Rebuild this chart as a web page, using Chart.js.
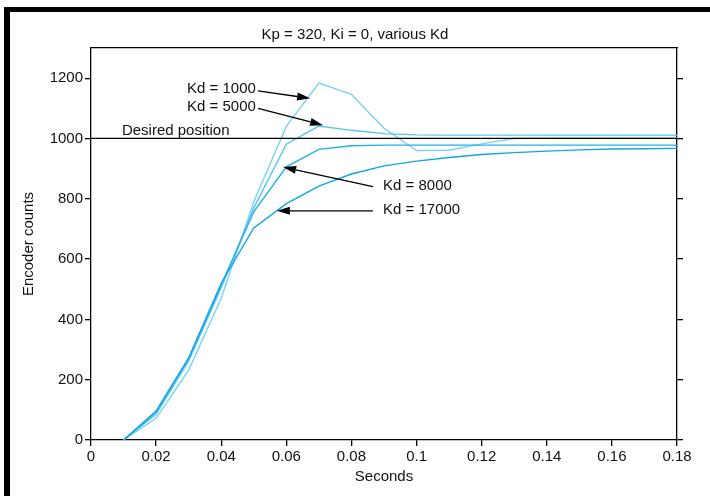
<!DOCTYPE html>
<html>
<head>
<meta charset="utf-8">
<script src="https://cdn.jsdelivr.net/npm/chart.js@4/dist/chart.umd.min.js"></script>
<style>
  html, body { margin: 0; padding: 0; background: #fff; }
  #wrap { position: relative; width: 710px; height: 496px; }
  #myChart { position: absolute; left: 0; top: 0; }
  #frame {
    position: absolute; left: 4px; top: 7px; right: 0; bottom: 0;
    border-top: 5px solid #000; border-left: 6px solid #000;
    pointer-events: none;
  }
</style>
</head>
<body>
<div id="wrap">
  <canvas id="myChart" width="710" height="496"></canvas>
  <div id="frame"></div>
</div>
<script>
const seconds = [0.01, 0.02, 0.03, 0.04, 0.05, 0.06, 0.07, 0.08, 0.09,
  0.10, 0.11, 0.12, 0.13, 0.14, 0.15, 0.16, 0.17, 0.18];

const kd1000 = [0, 72, 232, 470, 790, 1040, 1184, 1146, 1034,
  960, 961, 982, 1000, 1001, 1001, 1001, 1001, 1001];
const kd5000 = [0, 85, 262, 505, 770, 981, 1041, 1027, 1016,
  1012, 1011, 1011, 1011, 1011, 1011, 1011, 1011, 1011];
const kd8000 = [0, 93, 270, 515, 757, 906, 964, 976, 978,
  978, 978, 978, 978, 978, 978, 978, 978, 978];
const kd17000 = [0, 96, 272, 520, 703, 784, 842, 882, 909,
  925, 937, 947, 953, 958, 962, 965, 966, 967];

const desiredX = [0, 0.18];
const desiredY = [1000, 1000];

const xTicks = [0, 0.02, 0.04, 0.06, 0.08, 0.1, 0.12, 0.14, 0.16, 0.18];
const xTickLabels = ["0", "0.02", "0.04", "0.06", "0.08", "0.1", "0.12", "0.14", "0.16", "0.18"];
const yTicks = [0, 200, 400, 600, 800, 1000, 1200];
const yTickLabels = ["0", "200", "400", "600", "800", "1000", "1200"];

// callouts: text anchor, arrow start, arrow tip (data units)
const callouts = [
  { text: "Kd = 1000", at: [0.0295, 1163], from: [0.0513, 1158], to: [0.0673, 1133] },
  { text: "Kd = 5000", at: [0.0295, 1105], from: [0.0513, 1100], to: [0.0713, 1044] },
  { text: "Desired position", at: [0.0095, 1025] },
  { text: "Kd = 8000", at: [0.0897, 843], from: [0.0866, 840], to: [0.059, 905] },
  { text: "Kd = 17000", at: [0.0897, 762], from: [0.0866, 760], to: [0.0571, 760] },
];

const fontFamily = "'Liberation Sans', Arial, sans-serif";
const textColor = "#111";

const toPoints = (xs, ys) => xs.map((x, i) => ({ x: x, y: ys[i] }));

const calloutPlugin = {
  id: "callouts",
  afterDatasetsDraw(chart) {
    const { ctx, scales } = chart;
    const px = (t) => scales.x.getPixelForValue(t);
    const py = (v) => scales.y.getPixelForValue(v);
    ctx.save();
    ctx.font = "15px " + fontFamily;
    ctx.fillStyle = textColor;
    ctx.textAlign = "left";
    ctx.textBaseline = "middle";
    callouts.forEach((c) => {
      ctx.fillText(c.text, px(c.at[0]), py(c.at[1]));
      if (!c.from) return;
      const x1 = px(c.from[0]), y1 = py(c.from[1]);
      const x2 = px(c.to[0]), y2 = py(c.to[1]);
      const ang = Math.atan2(y2 - y1, x2 - x1);
      const len = 13, half = 4;
      const bx = x2 - len * Math.cos(ang), by = y2 - len * Math.sin(ang);
      ctx.strokeStyle = "#000";
      ctx.lineWidth = 1.3;
      ctx.beginPath();
      ctx.moveTo(x1, y1);
      ctx.lineTo(bx, by);
      ctx.stroke();
      ctx.fillStyle = "#000";
      ctx.beginPath();
      ctx.moveTo(x2, y2);
      ctx.lineTo(bx + half * Math.sin(ang), by - half * Math.cos(ang));
      ctx.lineTo(bx - half * Math.sin(ang), by + half * Math.cos(ang));
      ctx.closePath();
      ctx.fill();
      ctx.fillStyle = textColor;
    });
    ctx.restore();
  },
};

const lineSet = (label, values, color) => ({
  label: label,
  data: toPoints(seconds, values),
  borderColor: color,
  backgroundColor: color,
  borderWidth: 1.4,
  xAxisID: "x",
  yAxisID: "y",
});

const config = {
  type: "line",
  data: {
    datasets: [
      {
        label: "Desired position",
        data: toPoints(desiredX, desiredY),
        borderColor: "#000",
        backgroundColor: "#000",
        borderWidth: 1.3,
        xAxisID: "x",
        yAxisID: "y",
      },
      lineSet("Kd = 17000", kd17000, "#10a6e4"),
      lineSet("Kd = 8000", kd8000, "#22b0e8"),
      lineSet("Kd = 5000", kd5000, "#58c5ef"),
      lineSet("Kd = 1000", kd1000, "#7ad2f3"),
    ],
  },
  options: {
    responsive: false,
    animation: false,
    layout: { padding: 0 },
    elements: { point: { radius: 0 }, line: { tension: 0 } },
    plugins: {
      legend: { display: false },
      tooltip: { enabled: false },
      title: {
        display: true,
        text: "Kp = 320, Ki = 0, various Kd",
        color: textColor,
        font: { family: fontFamily, size: 15, weight: "normal" },
        padding: { top: 26, bottom: 4 },
      },
    },
    scales: {
      x: {
        type: "linear",
        position: "bottom",
        min: 0,
        max: 0.18,
        afterBuildTicks: (s) => { s.ticks = xTicks.map((v) => ({ value: v })); },
        ticks: {
          callback: (v, i) => xTickLabels[i],
          color: textColor,
          font: { family: fontFamily, size: 15 },
          padding: 2,
          maxRotation: 0,
        },
        grid: { drawOnChartArea: false, tickLength: 6, color: "#000", lineWidth: 1.3 },
        border: { color: "#000", width: 1.3 },
        title: {
          display: true,
          text: "Seconds",
          color: textColor,
          font: { family: fontFamily, size: 15 },
          padding: { top: 0, bottom: 10 },
        },
        afterFit: (s) => { s.height = 56; },
      },
      xTop: {
        type: "linear",
        position: "top",
        min: 0,
        max: 0.18,
        ticks: { display: false },
        grid: { display: false },
        border: { color: "#000", width: 1.3 },
        afterFit: (s) => { s.height = 0; },
      },
      y: {
        type: "linear",
        position: "left",
        min: 0,
        max: 1300,
        afterBuildTicks: (s) => { s.ticks = yTicks.map((v) => ({ value: v })); },
        ticks: {
          callback: (v, i) => yTickLabels[i],
          color: textColor,
          font: { family: fontFamily, size: 15 },
          padding: 2,
        },
        grid: { drawOnChartArea: false, tickLength: 6, color: "#000", lineWidth: 1.3 },
        border: { color: "#000", width: 1.3 },
        title: {
          display: true,
          text: "Encoder counts",
          color: textColor,
          font: { family: fontFamily, size: 15 },
          padding: { top: 20, bottom: 0 },
        },
        afterFit: (s) => { s.width = 91; },
      },
      yRight: {
        type: "linear",
        position: "right",
        min: 0,
        max: 1300,
        afterBuildTicks: (s) => { s.ticks = yTicks.map((v) => ({ value: v })); },
        ticks: { display: false },
        grid: { drawOnChartArea: false, tickLength: 6, color: "#000", lineWidth: 1.3 },
        border: { color: "#000", width: 1.3 },
        afterFit: (s) => { s.width = 33; },
      },
    },
  },
  plugins: [calloutPlugin],
};

const chart = new Chart(document.getElementById("myChart"), config);
</script>
</body>
</html>
